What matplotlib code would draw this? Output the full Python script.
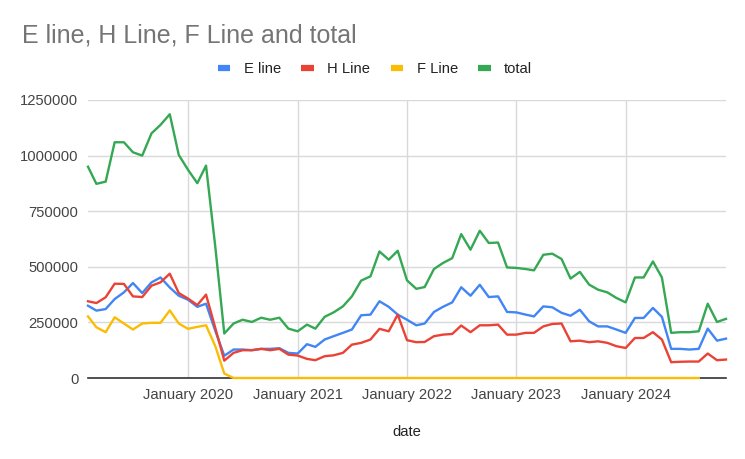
import numpy as np
import pandas as pd
import matplotlib
matplotlib.use("Agg")
import matplotlib.pyplot as plt
from matplotlib.lines import Line2D

plt.rcParams['font.family'] = ['Liberation Sans', 'DejaVu Sans']

# monthly values, Feb 2019 .. Dec 2024 (in thousands)
dates = pd.date_range('2019-02-01', periods=71, freq='MS')

e_line = [325, 303, 310, 355, 385, 427, 382, 430, 452, 407, 370, 352, 320,
          334, 212, 100, 128, 128, 125, 131, 131, 134, 113, 110,
          152, 140, 173, 188, 203, 218, 282, 285, 345, 320, 285, 262,
          237, 245, 297, 320, 340, 408, 370, 419, 364, 367, 297, 295,
          285, 277, 322, 318, 293, 280, 307, 255, 232, 232, 218, 203,
          270, 270, 315, 275, 131, 131, 128, 131, 222, 168, 177]

h_line = [345, 337, 363, 424, 423, 367, 364, 415, 430, 469, 382, 357, 328,
          375, 225, 78, 113, 125, 125, 131, 125, 131, 105, 101,
          86, 80, 98, 102, 113, 150, 158, 173, 221, 210, 285, 170,
          161, 162, 188, 195, 198, 236, 206, 237, 237, 240, 195, 195,
          203, 203, 232, 243, 245, 165, 168, 161, 165, 158, 143, 135,
          180, 180, 206, 173, 71, 73, 74, 74, 110, 80, 83]

f_line = ([277, 228, 206, 273, 245, 218, 245, 248, 248, 304, 245, 221, 230,
           237, 143, 20] + [0] * 52 + [np.nan] * 3)

total = [950, 873, 883, 1060, 1060, 1015, 1000, 1100, 1138, 1186, 1003, 936, 876,
         955, 590, 200, 245, 262, 252, 271, 262, 271, 222, 210,
         240, 222, 275, 295, 322, 367, 438, 457, 569, 532, 572, 439,
         401, 409, 490, 517, 539, 647, 577, 662, 607, 609, 497, 495,
         490, 484, 554, 559, 535, 447, 477, 420, 397, 385, 360, 340,
         452, 452, 524, 452, 203, 206, 206, 210, 334, 252, 266]

names = ['E line', 'H Line', 'F Line', 'total']
colors = ['#4285F4', '#EA4335', '#FBBC04', '#34A853']
series = [e_line, h_line, f_line, total]

fig = plt.figure(figsize=(7.45, 4.59), dpi=100)
ax = fig.add_axes([88 / 745, 81 / 459, 638 / 745, 278 / 459])

for vals, c in zip(series, colors):
    ax.plot(dates, np.array(vals, dtype=float) * 1000, color=c, lw=1.7,
            zorder=3, clip_on=False)

ax.set_xlim(dates[0], dates[-1])
ax.set_ylim(0, 1250000)
ax.set_yticks(np.arange(0, 1250001, 250000))
ax.set_yticklabels([str(v) for v in range(0, 1250001, 250000)])
yrs = pd.to_datetime(['2020-01-01', '2021-01-01', '2022-01-01', '2023-01-01', '2024-01-01'])
ax.set_xticks(yrs)
ax.set_xticklabels(['January %d' % y.year for y in yrs])

ax.grid(True, color='#d9d9d9', lw=1)
ax.set_axisbelow(True)
for s in ['top', 'right', 'left']:
    ax.spines[s].set_visible(False)
ax.spines['bottom'].set_color('#333333')
ax.spines['bottom'].set_linewidth(1.2)
ax.spines['bottom'].set_zorder(2.5)
ax.tick_params(length=0, labelsize=10.6, colors='#444444')
ax.tick_params(axis='y', pad=7)
ax.tick_params(axis='x', pad=7)

ax.set_xlabel('date', fontsize=10.6, color='#222222', labelpad=17)

fig.text(22 / 745, 1 - 35 / 459, 'E line, H Line, F Line and total',
         fontsize=18, color='#757575', va='center', ha='left')

handles = [Line2D([0], [0], color=c, lw=4.5, solid_capstyle='butt') for c in colors]
fig.legend(handles, names, loc='center', bbox_to_anchor=(375 / 745, 1 - 69 / 459),
           ncol=4, frameon=False, fontsize=10.6, handlelength=0.85,
           handletextpad=0.9, columnspacing=1.4, labelcolor='#222222')

fig.savefig('out.png', dpi=100)
